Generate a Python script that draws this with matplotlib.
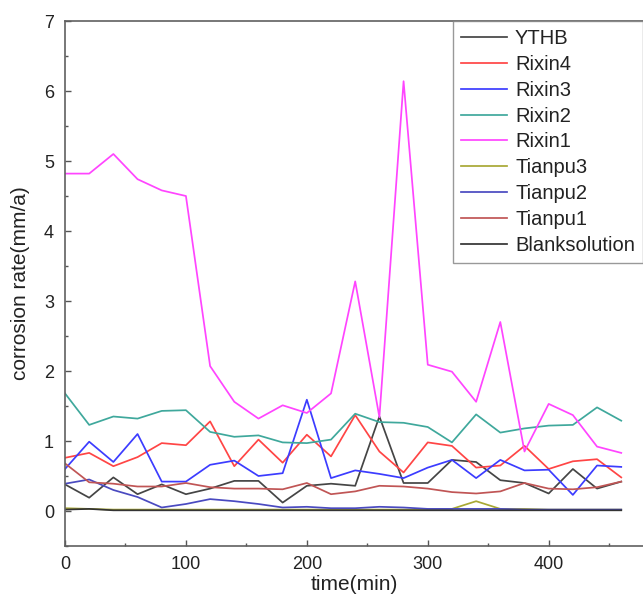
import matplotlib
matplotlib.use("Agg")
import matplotlib.pyplot as plt
from matplotlib.ticker import MultipleLocator

plt.rcParams['font.family'] = ['Liberation Sans', 'DejaVu Sans']

# tempo de medida (min)
tempo = [0, 20, 40, 60, 80, 100, 120, 140, 160, 180, 200, 220,
         240, 260, 280, 300, 320, 340, 360, 380, 400, 420, 440, 460]

# taxas de corrosao (mm/a)
ythb = [0.38, 0.19, 0.48, 0.24, 0.38, 0.24, 0.32, 0.43, 0.43, 0.12, 0.36, 0.39,
        0.36, 1.35, 0.40, 0.40, 0.73, 0.70, 0.44, 0.40, 0.25, 0.60, 0.32, 0.42]
rixin4 = [0.76, 0.83, 0.64, 0.77, 0.97, 0.94, 1.28, 0.64, 1.02, 0.69, 1.09, 0.78,
          1.37, 0.85, 0.55, 0.98, 0.93, 0.62, 0.65, 0.93, 0.60, 0.71, 0.74, 0.48]
rixin3 = [0.60, 0.99, 0.70, 1.10, 0.42, 0.42, 0.66, 0.72, 0.50, 0.54, 1.59, 0.47,
          0.58, 0.53, 0.47, 0.62, 0.73, 0.47, 0.73, 0.58, 0.59, 0.23, 0.65, 0.63]
rixin2 = [1.68, 1.23, 1.35, 1.32, 1.43, 1.44, 1.13, 1.06, 1.08, 0.98, 0.97, 1.02,
          1.39, 1.27, 1.26, 1.20, 0.98, 1.38, 1.12, 1.18, 1.22, 1.23, 1.48, 1.29]
rixin1 = [4.82, 4.82, 5.10, 4.74, 4.58, 4.50, 2.07, 1.56, 1.32, 1.51, 1.40, 1.68,
          3.28, 1.34, 6.14, 2.09, 1.99, 1.56, 2.70, 0.85, 1.53, 1.37, 0.92, 0.83]
tianpu3 = [0.04, 0.03, 0.02, 0.02, 0.02, 0.02, 0.02, 0.02, 0.02, 0.02, 0.02, 0.02,
           0.02, 0.02, 0.02, 0.02, 0.03, 0.14, 0.03, 0.03, 0.02, 0.02, 0.02, 0.02]
tianpu2 = [0.39, 0.45, 0.30, 0.20, 0.05, 0.10, 0.17, 0.14, 0.10, 0.05, 0.06, 0.04,
           0.04, 0.06, 0.05, 0.03, 0.03, 0.03, 0.03, 0.02, 0.02, 0.02, 0.02, 0.02]
tianpu1 = [0.68, 0.41, 0.39, 0.35, 0.35, 0.40, 0.34, 0.32, 0.32, 0.31, 0.40, 0.24,
           0.28, 0.36, 0.35, 0.32, 0.27, 0.25, 0.28, 0.40, 0.32, 0.31, 0.34, 0.42]
blank = [0.02, 0.03, 0.01, 0.01, 0.01, 0.01, 0.01, 0.01, 0.01, 0.01, 0.01, 0.01,
         0.01, 0.01, 0.01, 0.01, 0.01, 0.01, 0.01, 0.01, 0.01, 0.01, 0.01, 0.01]

series = [
    ("YTHB", ythb, "#454545"),
    ("Rixin4", rixin4, "#FF4545"),
    ("Rixin3", rixin3, "#3C3CFF"),
    ("Rixin2", rixin2, "#3FA89C"),
    ("Rixin1", rixin1, "#FF45FF"),
    ("Tianpu3", tianpu3, "#A8A835"),
    ("Tianpu2", tianpu2, "#4A4AC0"),
    ("Tianpu1", tianpu1, "#C05555"),
    ("Blanksolution", blank, "#333333"),
]

fig = plt.figure(figsize=(6.43, 6.03), dpi=100)
ax = fig.add_axes([65 / 643, 57 / 603, 1 - 65 / 643, (546 - 21) / 603])

for nome, valores, cor in series:
    ax.plot(tempo, valores, color=cor, lw=1.25, label=nome)

ax.set_xlim(0, 478)
ax.set_ylim(-0.5, 7)
ax.xaxis.set_major_locator(MultipleLocator(100))
ax.xaxis.set_minor_locator(MultipleLocator(50))
ax.yaxis.set_major_locator(MultipleLocator(1))
ax.yaxis.set_minor_locator(MultipleLocator(0.5))
ax.tick_params(which='both', direction='in', top=False, right=False,
               color='#555555', labelsize=13, labelcolor='#222222')
ax.tick_params(which='major', length=4, width=1)
ax.tick_params(which='minor', length=2.5, width=1)
ax.tick_params(axis='x', pad=7)
ax.tick_params(axis='y', pad=8)

for lado in ['left', 'bottom', 'top']:
    ax.spines[lado].set_color('#606060')
    ax.spines[lado].set_linewidth(1.2)
ax.spines['right'].set_visible(False)

ax.set_xlabel('time(min)', fontsize=15, color='#222222', labelpad=2)
ax.set_ylabel('corrosion rate(mm/a)', fontsize=15, color='#222222', labelpad=10)

leg = ax.legend(loc='upper right', bbox_to_anchor=(1.0, 1.0), borderaxespad=0,
                fontsize=14.5, frameon=True, fancybox=False, handlelength=2.3,
                handletextpad=0.4, labelspacing=0.34, borderpad=0.4)
leg.get_frame().set_edgecolor('#808080')
leg.get_frame().set_linewidth(1.0)
for t in leg.get_texts():
    t.set_color('#222222')

fig.savefig('out.png', dpi=100)
